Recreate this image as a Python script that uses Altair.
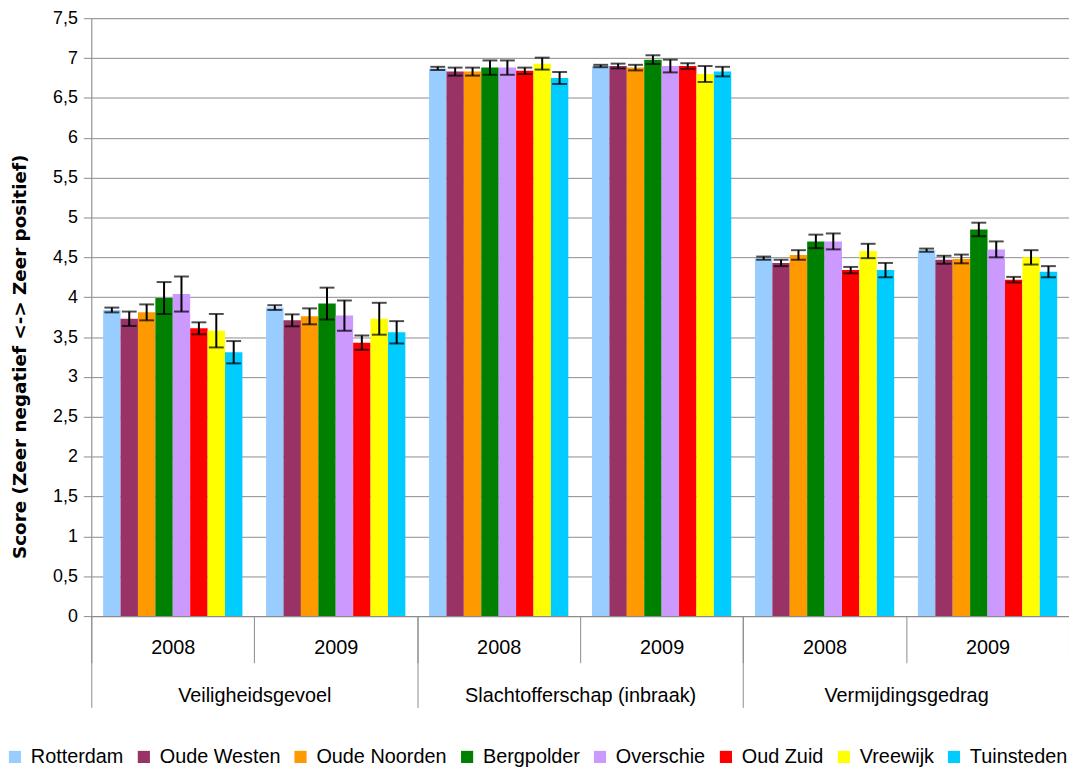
import altair as alt
import pandas as pd

regions = ["Rotterdam", "Oude Westen", "Oude Noorden", "Bergpolder",
           "Overschie", "Oud Zuid", "Vreewijk", "Tuinsteden"]
colors = ["#99CCFF", "#993366", "#FF9900", "#008000",
          "#CC99FF", "#FF0000", "#FFFF00", "#00CCFF"]
categories = ["Veiligheidsgevoel", "Slachtofferschap (inbraak)", "Vermijdingsgedrag"]
years = ["2008", "2009"]

veil_2008 = [3.84, 3.73, 3.81, 3.99, 4.04, 3.61, 3.58, 3.31]
veil_2008_err = [0.03, 0.09, 0.10, 0.20, 0.22, 0.075, 0.21, 0.14]
veil_2009 = [3.87, 3.71, 3.76, 3.92, 3.77, 3.43, 3.73, 3.56]
veil_2009_err = [0.03, 0.075, 0.10, 0.20, 0.19, 0.09, 0.20, 0.14]

slacht_2008 = [6.87, 6.83, 6.83, 6.88, 6.88, 6.84, 6.93, 6.75]
slacht_2008_err = [0.02, 0.05, 0.05, 0.09, 0.09, 0.04, 0.075, 0.075]
slacht_2009 = [6.90, 6.90, 6.88, 6.98, 6.90, 6.90, 6.80, 6.83]
slacht_2009_err = [0.015, 0.03, 0.035, 0.055, 0.08, 0.035, 0.10, 0.06]

verm_2008 = [4.49, 4.43, 4.53, 4.70, 4.70, 4.34, 4.58, 4.34]
verm_2008_err = [0.02, 0.04, 0.06, 0.085, 0.10, 0.04, 0.09, 0.09]
verm_2009 = [4.59, 4.47, 4.48, 4.85, 4.60, 4.22, 4.50, 4.32]
verm_2009_err = [0.02, 0.05, 0.055, 0.085, 0.10, 0.035, 0.09, 0.07]

series = {
    ("Veiligheidsgevoel", "2008"): (veil_2008, veil_2008_err),
    ("Veiligheidsgevoel", "2009"): (veil_2009, veil_2009_err),
    ("Slachtofferschap (inbraak)", "2008"): (slacht_2008, slacht_2008_err),
    ("Slachtofferschap (inbraak)", "2009"): (slacht_2009, slacht_2009_err),
    ("Vermijdingsgedrag", "2008"): (verm_2008, verm_2008_err),
    ("Vermijdingsgedrag", "2009"): (verm_2009, verm_2009_err),
}

rows = []
grp_order = []
for c in categories:
    for yv in years:
        g = c + "|" + yv
        grp_order.append(g)
        vals, errs = series[(c, yv)]
        for r, v, e in zip(regions, vals, errs):
            rows.append({"category": c, "year": yv, "grp": g, "region": r,
                         "value": v, "err": e})
df = pd.DataFrame(rows)
cat_df = pd.DataFrame({"category": categories})

FONT = "Liberation Sans"
GRAY = "#8c8c8c"

x_enc = alt.X("grp:N", sort=grp_order,
              scale=alt.Scale(paddingInner=0, paddingOuter=0),
              axis=alt.Axis(title=None, labelExpr="split(datum.label, '|')[1]",
                            tickBand="extent", tickSize=47, labelPadding=-25,
                            labelAngle=0, labelFontSize=20, labelFont=FONT,
                            labelColor="#000000", domainColor=GRAY,
                            tickColor=GRAY, labelOverlap=False, labelLimit=0))
xo_enc = alt.XOffset("region:N", sort=regions,
                     scale=alt.Scale(paddingOuter=0.68, paddingInner=0))

y_ticks = [i * 0.5 for i in range(16)]
y_axis = alt.Axis(values=y_ticks,
                  labelExpr="replace(format(datum.value, '.1~f'), '.', ',')",
                  title="Score (Zeer negatief <-> Zeer positief)",
                  titleFontSize=18.5, titleFontWeight="bold",
                  titleFont="DejaVu Sans",
                  titleColor="#000000", titleX=-62, titleY=341,
                  titleLimit=0,
                  labelFontSize=18, labelFont=FONT, labelColor="#000000",
                  labelPadding=6, tickSize=8, tickColor=GRAY,
                  domainColor=GRAY, gridColor=GRAY, grid=True)

base = alt.Chart(df)

bars = base.mark_bar().encode(
    x=x_enc, xOffset=xo_enc,
    y=alt.Y("value:Q", scale=alt.Scale(domain=[0, 7.5], nice=False), axis=y_axis),
    color=alt.Color("region:N", sort=regions,
                    scale=alt.Scale(domain=regions, range=colors),
                    legend=alt.Legend(title=None, orient="none", legendX=-87,
                                      legendY=735, direction="horizontal",
                                      columns=8, symbolType="square",
                                      symbolSize=150, symbolStrokeWidth=0,
                                      labelFontSize=20, labelFont=FONT,
                                      labelColor="#000000", labelOffset=6,
                                      columnPadding=10, labelLimit=0)),
)

err = base.transform_calculate(
    lo="datum.value - datum.err", hi="datum.value + datum.err")

rules = err.mark_rule(color="black", strokeWidth=2).encode(
    x=x_enc, xOffset=xo_enc, y="lo:Q", y2="hi:Q")
cap_lo = err.mark_tick(color="black", thickness=2, size=15,
                       orient="horizontal").encode(x=x_enc, xOffset=xo_enc, y="lo:Q")
cap_hi = err.mark_tick(color="black", thickness=2, size=15,
                       orient="horizontal").encode(x=x_enc, xOffset=xo_enc, y="hi:Q")

main = alt.layer(bars, rules, cap_lo, cap_hi)

cat_layer = alt.Chart(cat_df).mark_point(opacity=0).encode(
    x=alt.X("category:N", sort=categories,
            scale=alt.Scale(paddingInner=0, paddingOuter=0),
            axis=alt.Axis(title=None, orient="bottom", tickBand="extent",
                          tickSize=92, labelPadding=-22, domain=False,
                          labelAngle=0, labelFontSize=20, labelFont=FONT,
                          labelColor="#000000", tickColor=GRAY,
                          labelOverlap=False, labelLimit=0)),
    y=alt.value(0),
)

chart = alt.layer(main, cat_layer).resolve_scale(x="independent").properties(
    width=986, height=603,
    autosize=alt.AutoSizeParams(type="none"),
    padding={"left": 84, "top": 7, "right": 0, "bottom": 162},
).configure_view(stroke=None).configure(font=FONT)

chart.save("out.html", embed_options={"renderer": "svg", "actions": False})
